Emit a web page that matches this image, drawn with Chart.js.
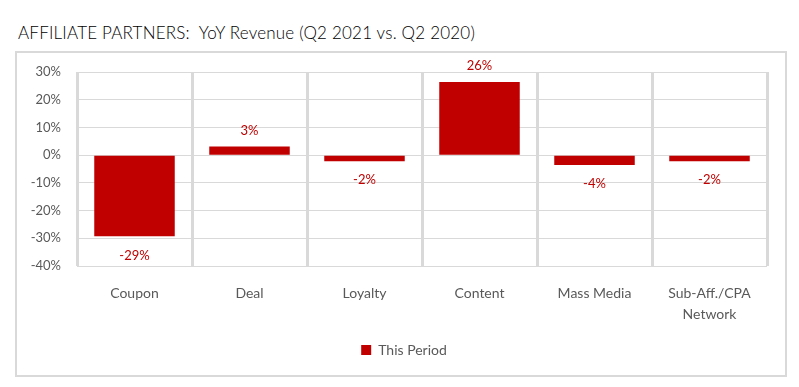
<!DOCTYPE html>
<html>
<head>
<meta charset="utf-8">
<script src="https://cdn.jsdelivr.net/npm/chart.js@4/dist/chart.umd.min.js"></script>
<style>
  html, body { margin: 0; padding: 0; background: #fff; }
  body { width: 799px; height: 387px; position: relative; overflow: hidden; font-family: Lato, sans-serif; }
  #title { position: absolute; left: 18px; top: 22px; font-size: 17px; font-weight: 300; color: #000; white-space: nowrap; letter-spacing: 0.2px; }
  #box { position: absolute; left: 15px; top: 51px; width: 768px; height: 322px; border: 2px solid #d9d9d9; }
</style>
</head>
<body>
<div id="title">AFFILIATE PARTNERS:&nbsp; YoY Revenue (Q2 2021 vs. Q2 2020)</div>
<div id="box"><canvas id="chart-bars" width="768" height="322"></canvas></div>
<script>
const categories = ['Coupon', 'Deal', 'Loyalty', 'Content', 'Mass Media', ['Sub-Aff./CPA', 'Network']];
const thisPeriod = [-29.3, 3.1, -2.2, 26.4, -3.6, -2.2];
const yTicks = [-40, -30, -20, -10, 0, 10, 20, 30];

const barRed = '#c00000';
const textGrey = '#595959';
const gridGrey = '#d9d9d9';

// value labels above / below each bar
const valueLabels = {
    id: 'valueLabels',
    afterDatasetsDraw(chart) {
        const c = chart.ctx;
        const meta = chart.getDatasetMeta(0);
        c.save();
        c.fillStyle = barRed;
        c.font = '13px Lato';
        c.textAlign = 'center';
        c.textBaseline = 'middle';
        meta.data.forEach(function(bar, i) {
            const v = thisPeriod[i];
            const y = v >= 0 ? bar.y - 16 : bar.y + 19;
            c.fillText(Math.round(v) + '%', bar.x, y);
        });
        c.restore();
    }
};

// legend in the reference sits centred on the whole box, not the padded area
const legendShift = {
    id: 'legendShift',
    afterLayout(chart) {
        chart.legend.left += 12;
        chart.legend.right += 12;
    }
};

const ctx = document.getElementById('chart-bars').getContext('2d');

new Chart(ctx, {
    type: 'bar',
    data: {
        labels: categories,
        datasets: [{
            label: 'This Period',
            data: thisPeriod,
            backgroundColor: barRed,
            borderWidth: 0,
            barPercentage: 0.7,
            categoryPercentage: 1.0
        }]
    },
    options: {
        responsive: false,
        animation: false,
        layout: {
            padding: { top: 19, right: 18, bottom: 8, left: 0 }
        },
        plugins: {
            legend: {
                display: true,
                position: 'bottom',
                labels: {
                    boxWidth: 10,
                    boxHeight: 10,
                    padding: 10,
                    color: textGrey,
                    font: { size: 14, family: 'Lato' }
                }
            },
            tooltip: { enabled: false }
        },
        scales: {
            x: {
                afterFit: function(scale) { scale.height = 67; },
                grid: {
                    offset: true,
                    display: true,
                    drawTicks: false,
                    color: gridGrey,
                    lineWidth: 3
                },
                border: { display: false },
                ticks: {
                    padding: 17,
                    color: textGrey,
                    maxRotation: 0,
                    font: { size: 14, family: 'Lato', lineHeight: 1.5 }
                }
            },
            y: {
                min: -40,
                max: 30,
                afterFit: function(scale) {
                    scale.width = 60;
                    scale.paddingTop = 0;
                    scale.paddingBottom = 0;
                },
                afterBuildTicks: function(scale) {
                    scale.ticks = yTicks.map(function(v) { return { value: v }; });
                },
                grid: {
                    drawTicks: false,
                    color: gridGrey,
                    lineWidth: 1
                },
                border: { display: false },
                ticks: {
                    padding: 16,
                    color: textGrey,
                    font: { size: 13, family: 'Lato' },
                    callback: function(v) { return v + '%'; }
                }
            }
        }
    },
    plugins: [valueLabels, legendShift]
});
</script>
</body>
</html>
